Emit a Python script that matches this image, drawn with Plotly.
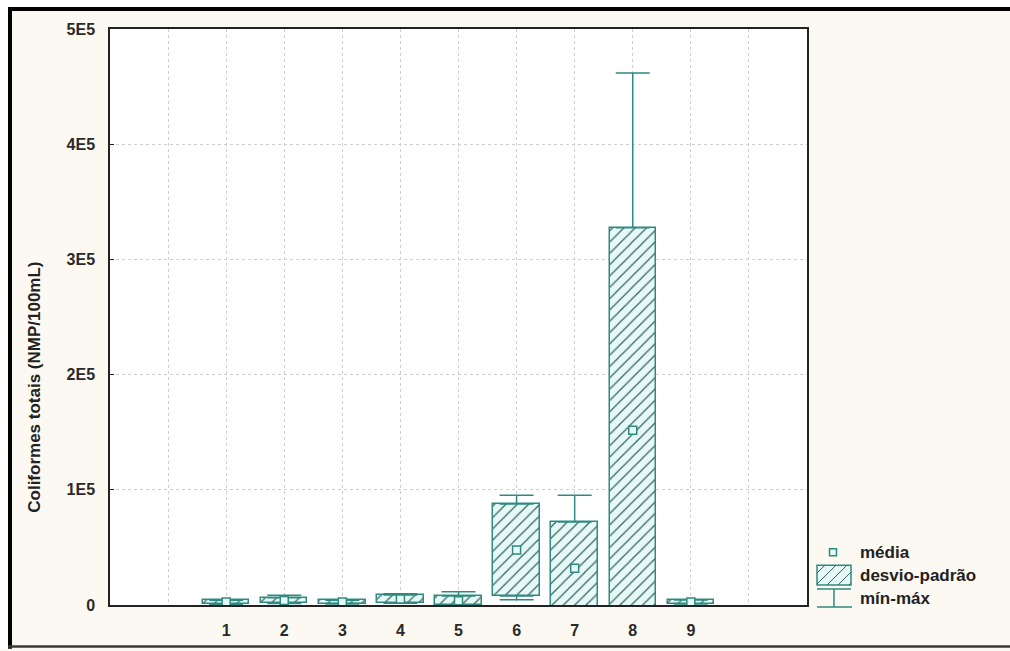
import plotly.graph_objects as go

# Coliform counts per sampling point: mean, standard deviation, min and max
pontos = [1, 2, 3, 4, 5, 6, 7, 8, 9]
media = [2600, 4000, 2700, 5200, 3700, 47700, 32000, 151600, 2700]
desvio = [1600, 2400, 1500, 3500, 4100, 39900, 40000, 175900, 1700]
minimo = [600, 1200, 900, 1500, 500, 4600, 300, 400, 800]
maximo = [4500, 8500, 4300, 9800, 11500, 95300, 95300, 461900, 4600]

y_tickvals = [0, 100000, 200000, 300000, 400000, 500000]
y_ticktext = ["0", "1E5", "2E5", "3E5", "4E5", "5E5"]
x_gridvals = [0, 1, 2, 3, 4, 5, 6, 7, 8, 9, 10]
x_ticktext = ["", "1", "2", "3", "4", "5", "6", "7", "8", "9", ""]

legend_labels = ["média", "desvio-padrão", "mín-máx"]
y_title = "Coliformes totais (NMP/100mL)"

TEAL = "#2f8a80"
HATCH = "#33625e"
FILL = "#e6f9f7"
CREAM = "#fcf9f2"
FONT = "Liberation Sans, Arial, sans-serif"

W, H = 1010, 651
ML, MR, MT, MB = 110, 203, 29, 44
PW, PH = W - ML - MR, H - MT - MB


def fx(px):
    return (px - ML) / PW


def fy(py):
    return (H - MB - py) / PH


low = [m - s for m, s in zip(media, desvio)]
high = [m + s for m, s in zip(media, desvio)]

fig = go.Figure()

# mean ± sd boxes
fig.add_trace(go.Bar(
    x=pontos, y=[2 * s for s in desvio], base=low, width=0.8,
    marker=dict(color=FILL, line=dict(color=TEAL, width=1.5),
                pattern=dict(shape="/", fgcolor=HATCH, bgcolor=FILL,
                             size=8, solidity=0.15, fillmode="replace")),
    showlegend=False, hoverinfo="skip",
))

# upper whisker: from box top to maximum
fig.add_trace(go.Scatter(
    x=pontos, y=high, mode="markers",
    marker=dict(size=1, color="rgba(0,0,0,0)"),
    error_y=dict(type="data", symmetric=False,
                 array=[mx - h for mx, h in zip(maximo, high)],
                 arrayminus=[0] * len(pontos),
                 color=TEAL, thickness=1.5, width=17),
    showlegend=False, hoverinfo="skip",
))

# lower whisker: from box bottom to minimum
fig.add_trace(go.Scatter(
    x=pontos, y=low, mode="markers",
    marker=dict(size=1, color="rgba(0,0,0,0)"),
    error_y=dict(type="data", symmetric=False,
                 array=[0] * len(pontos),
                 arrayminus=[max(l - mn, 0) for l, mn in zip(low, minimo)],
                 color=TEAL, thickness=1.5, width=17),
    showlegend=False, hoverinfo="skip",
))

# means
fig.add_trace(go.Scatter(
    x=pontos, y=media, mode="markers",
    marker=dict(symbol="square", size=8, color=FILL,
                line=dict(color=TEAL, width=1.5)),
    showlegend=False,
))

shapes = []
# page frame
shapes.append(dict(type="rect", xref="paper", yref="paper",
                   x0=fx(0), x1=fx(W), y0=fy(0), y1=fy(7),
                   fillcolor="white", line=dict(width=0), layer="below"))
shapes.append(dict(type="rect", xref="paper", yref="paper",
                   x0=fx(0), x1=fx(8), y0=fy(0), y1=fy(H),
                   fillcolor="white", line=dict(width=0), layer="below"))
shapes.append(dict(type="rect", xref="paper", yref="paper",
                   x0=fx(8), x1=fx(W), y0=fy(7), y1=fy(11),
                   fillcolor="black", line=dict(width=0)))
shapes.append(dict(type="rect", xref="paper", yref="paper",
                   x0=fx(8), x1=fx(12), y0=fy(7), y1=fy(H),
                   fillcolor="black", line=dict(width=0)))
shapes.append(dict(type="rect", xref="paper", yref="paper",
                   x0=fx(8), x1=fx(W), y0=fy(647.5), y1=fy(650),
                   fillcolor="#3a3a3a", line=dict(width=0)))

# legend symbols
shapes.append(dict(type="rect", xref="paper", yref="paper",
                   x0=fx(829.5), x1=fx(836.5), y0=fy(557.5), y1=fy(550.5),
                   fillcolor=FILL, line=dict(color=TEAL, width=1.5)))
rx0, rx1, ry0, ry1 = 817, 851, 567, 587
shapes.append(dict(type="rect", xref="paper", yref="paper",
                   x0=fx(rx0), x1=fx(rx1), y0=fy(ry1), y1=fy(ry0),
                   fillcolor=FILL, line=dict(color=TEAL, width=1.5)))
hatch = ""
c = rx0 + ry0 + 8
while c < rx1 + ry1:
    xa = max(rx0, c - ry1)
    xb = min(rx1, c - ry0)
    if xb > xa:
        hatch += "M{:.4f},{:.4f} L{:.4f},{:.4f} ".format(
            fx(xa), fy(c - xa), fx(xb), fy(c - xb))
    c += 11
shapes.append(dict(type="path", xref="paper", yref="paper", path=hatch.strip(),
                   line=dict(color=HATCH, width=1)))
whisk = "M{:.4f},{:.4f} L{:.4f},{:.4f} M{:.4f},{:.4f} L{:.4f},{:.4f} M{:.4f},{:.4f} L{:.4f},{:.4f}".format(
    fx(817), fy(591), fx(851), fy(591),
    fx(834), fy(591), fx(834), fy(609),
    fx(817), fy(609), fx(852), fy(609))
shapes.append(dict(type="path", xref="paper", yref="paper", path=whisk,
                   line=dict(color=TEAL, width=1.5)))

annotations = []
for label, yc in zip(legend_labels, [554, 577, 600]):
    annotations.append(dict(text=label, xref="paper", yref="paper",
                            x=fx(858), y=fy(yc), xanchor="left", yanchor="middle",
                            showarrow=False,
                            font=dict(family=FONT, size=17, color="#222222", weight="bold")))
annotations.append(dict(text=y_title, xref="paper", yref="paper",
                        x=fx(35), y=fy(389), xanchor="center", yanchor="middle",
                        textangle=-90, showarrow=False,
                        font=dict(family=FONT, size=17, color="#222222", weight="bold")))

fig.update_layout(
    width=W, height=H,
    margin=dict(l=ML, r=MR, t=MT, b=MB, pad=0),
    paper_bgcolor=CREAM, plot_bgcolor="white",
    showlegend=False, bargap=0,
    shapes=shapes, annotations=annotations,
    font=dict(family=FONT),
    xaxis=dict(range=[-1, 11], tickmode="array", tickvals=x_gridvals, ticktext=x_ticktext,
               showgrid=True, gridcolor="#cfcfcf", griddash="dot", gridwidth=1,
               showline=True, linecolor="#222222", linewidth=1.5, mirror=True,
               ticks="", zeroline=False, ticklabelstandoff=10,
               tickfont=dict(family=FONT, size=16, color="#2a2a2a", weight="bold")),
    yaxis=dict(range=[0, 500000], tickmode="array", tickvals=y_tickvals, ticktext=y_ticktext,
               showgrid=True, gridcolor="#cfcfcf", griddash="dot", gridwidth=1,
               showline=True, linecolor="#222222", linewidth=1.5, mirror=True,
               ticks="inside", ticklen=4, tickcolor="#222222", zeroline=False,
               ticklabelstandoff=10,
               tickfont=dict(family=FONT, size=16, color="#2a2a2a", weight="bold")),
)

fig.write_html("out.html")
